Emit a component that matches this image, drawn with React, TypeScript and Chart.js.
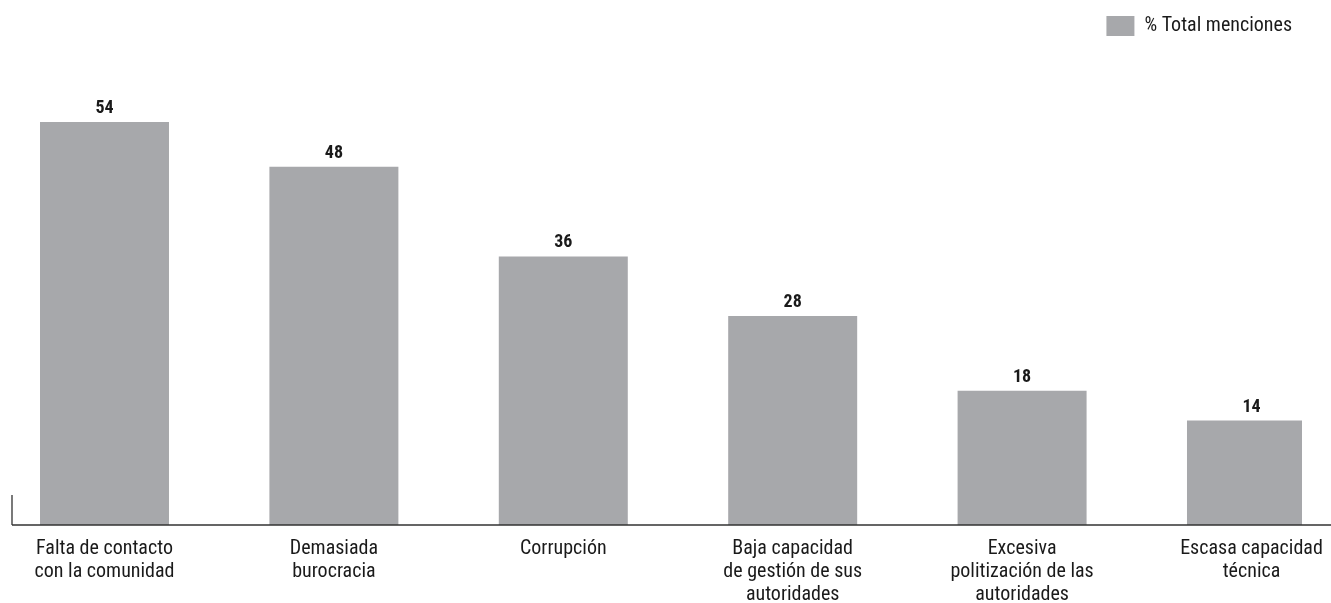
import React, { useEffect, useRef } from "react";
import { Chart, registerables } from "chart.js";

Chart.register(...registerables);

const categories: string[][] = [
  ["Falta de contacto", "con la comunidad"],
  ["Demasiada", "burocracia"],
  ["Corrupción"],
  ["Baja capacidad", "de gestión de sus", "autoridades"],
  ["Excesiva", "politización de las", "autoridades"],
  ["Escasa capacidad", "técnica"],
];
const values: number[] = [54, 48, 36, 28, 18, 14];
const seriesLabel = "% Total menciones";

const FAMILY = "'Roboto Condensed', Roboto, sans-serif";
const BAR_COLOR = "#A7A8AB";
const TEXT_COLOR = "#1a1a1a";
const AXIS_COLOR = "#333333";

const axisPlugin = {
  id: "axisLines",
  afterDraw(chart: any) {
    const { ctx, chartArea, scales } = chart;
    const y0 = scales.y.getPixelForValue(0);
    ctx.save();
    ctx.strokeStyle = AXIS_COLOR;
    ctx.lineWidth = 1.3;
    ctx.beginPath();
    ctx.moveTo(chartArea.left, y0);
    ctx.lineTo(chart.width, y0);
    ctx.moveTo(chartArea.left, y0 - 30);
    ctx.lineTo(chartArea.left, y0);
    ctx.stroke();
    ctx.restore();
  },
};

const valueLabelPlugin = {
  id: "valueLabels",
  afterDatasetsDraw(chart: any) {
    const { ctx } = chart;
    const meta = chart.getDatasetMeta(0);
    ctx.save();
    ctx.fillStyle = TEXT_COLOR;
    ctx.font = `bold 18px ${FAMILY}`;
    ctx.textAlign = "center";
    ctx.textBaseline = "alphabetic";
    meta.data.forEach((bar: any, i: number) => {
      ctx.fillText(String(values[i]), bar.x, bar.y - 9);
    });
    ctx.restore();
  },
};

export default function App() {
  const ref = useRef<HTMLCanvasElement | null>(null);

  useEffect(() => {
    if (!ref.current) return;
    const chart = new Chart(ref.current, {
      type: "bar",
      data: {
        datasets: [
          {
            label: seriesLabel,
            data: values.map((v, i) => ({ x: i, y: v })),
            backgroundColor: BAR_COLOR,
            borderWidth: 0,
            categoryPercentage: 1,
            barPercentage: 0.5623,
          },
        ],
      },
      options: {
        responsive: false,
        animation: false,
        layout: { padding: { top: 6, left: 12, right: 29, bottom: 0 } },
        plugins: {
          tooltip: { enabled: false },
          legend: {
            position: "top",
            align: "end",
            labels: {
              boxWidth: 28,
              boxHeight: 20,
              padding: 10,
              color: TEXT_COLOR,
              font: { family: FAMILY, size: 20 },
            },
          },
        },
        scales: {
          x: {
            type: "linear",
            offset: false,
            min: -0.4032,
            max: 5.2202,
            grid: { display: false, drawTicks: false },
            border: { display: false },
            afterBuildTicks: (scale: any) => {
              scale.ticks = categories.map((_, i) => ({ value: i }));
            },
            afterFit: (scale: any) => {
              scale.height = 78;
              scale.paddingLeft = 0;
              scale.paddingRight = 0;
            },
            ticks: {
              autoSkip: false,
              maxRotation: 0,
              minRotation: 0,
              padding: 12,
              color: TEXT_COLOR,
              font: { family: FAMILY, size: 20, lineHeight: "23px" },
              callback: (value: any) => {
                const i = Math.round(Number(value));
                return categories[i] ?? "";
              },
            },
          },
          y: {
            display: false,
            min: 0,
            max: 64.2,
          },
        },
      },
      plugins: [axisPlugin, valueLabelPlugin],
    });
    return () => chart.destroy();
  }, []);

  return (
    <div style={{ position: "absolute", left: 0, top: 0, width: 1331, height: 603, background: "#fff" }}>
      <canvas ref={ref} width={1331} height={603} style={{ display: "block" }} />
    </div>
  );
}
